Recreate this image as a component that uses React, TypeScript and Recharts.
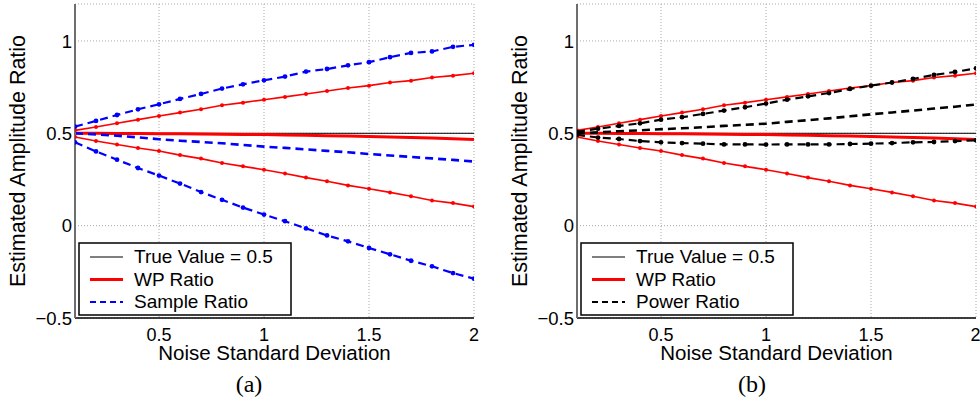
import React from 'react';
import { LineChart, Line, XAxis, YAxis, CartesianGrid } from 'recharts';

// noise std (x) values, one marker every 0.1
const noiseStd = [0.1, 0.2, 0.3, 0.4, 0.5, 0.6, 0.7, 0.8, 0.9, 1.0, 1.1, 1.2, 1.3, 1.4, 1.5, 1.6, 1.7, 1.8, 1.9, 2.0];

const trueValue = [0.5, 0.5, 0.5, 0.5, 0.5, 0.5, 0.5, 0.5, 0.5, 0.5, 0.5, 0.5, 0.5, 0.5, 0.5, 0.5, 0.5, 0.5, 0.5, 0.5];

// WP ratio: mean and +/- spread (same in both panels)
const wpUpper = [0.516, 0.534, 0.554, 0.574, 0.594, 0.612, 0.630, 0.652, 0.666, 0.682, 0.697, 0.713, 0.729, 0.745, 0.758, 0.775, 0.785, 0.802, 0.812, 0.825];
const wpMean = [0.500, 0.500, 0.499, 0.499, 0.498, 0.497, 0.496, 0.495, 0.494, 0.493, 0.491, 0.489, 0.487, 0.485, 0.483, 0.480, 0.477, 0.474, 0.470, 0.466];
const wpLower = [0.480, 0.458, 0.439, 0.420, 0.404, 0.382, 0.363, 0.339, 0.321, 0.303, 0.282, 0.260, 0.240, 0.218, 0.200, 0.180, 0.159, 0.136, 0.122, 0.103];

// panel (a): sample ratio
const sampleUpper = [0.536, 0.567, 0.599, 0.630, 0.657, 0.686, 0.713, 0.742, 0.765, 0.787, 0.807, 0.834, 0.848, 0.868, 0.885, 0.912, 0.935, 0.943, 0.968, 0.979];
const sampleMean = [0.500, 0.494, 0.487, 0.478, 0.468, 0.460, 0.453, 0.446, 0.437, 0.428, 0.421, 0.413, 0.405, 0.397, 0.388, 0.380, 0.372, 0.364, 0.356, 0.347];
const sampleLower = [0.451, 0.402, 0.357, 0.312, 0.271, 0.228, 0.182, 0.140, 0.098, 0.060, 0.024, -0.015, -0.053, -0.085, -0.121, -0.155, -0.190, -0.220, -0.257, -0.287];

// panel (b): power ratio
const powerUpper = [0.508, 0.525, 0.540, 0.554, 0.574, 0.587, 0.605, 0.623, 0.641, 0.661, 0.682, 0.700, 0.718, 0.740, 0.758, 0.775, 0.794, 0.816, 0.832, 0.852];
const powerMean = [0.500, 0.505, 0.511, 0.516, 0.522, 0.527, 0.533, 0.540, 0.546, 0.552, 0.562, 0.571, 0.581, 0.592, 0.603, 0.613, 0.623, 0.634, 0.644, 0.656];
const powerLower = [0.492, 0.477, 0.469, 0.458, 0.451, 0.447, 0.444, 0.440, 0.440, 0.439, 0.440, 0.440, 0.440, 0.442, 0.444, 0.447, 0.451, 0.453, 0.458, 0.462];

const xTicks = [0.5, 1, 1.5, 2];
const yTicks = [-0.5, 0, 0.5, 1];

const SANS = '"Liberation Sans", Arial, Helvetica, sans-serif';
const SERIF = '"Liberation Serif", "Times New Roman", serif';

const RED = '#ff0000';
const BLUE = '#0000ff';
const BLACK = '#000000';

const PLOT_TOP = 4;
const PLOT_BOTTOM = 318;

interface Row {
  x: number;
  trueValue: number;
  wpUpper: number;
  wpMean: number;
  wpLower: number;
  cmpUpper: number;
  cmpMean: number;
  cmpLower: number;
}

const buildRows = (upper: number[], mean: number[], lower: number[]): Row[] =>
  noiseStd.map((x, i) => ({
    x,
    trueValue: trueValue[i],
    wpUpper: wpUpper[i],
    wpMean: wpMean[i],
    wpLower: wpLower[i],
    cmpUpper: upper[i],
    cmpMean: mean[i],
    cmpLower: lower[i],
  }));

const sampleRows = buildRows(sampleUpper, sampleMean, sampleLower);
const powerRows = buildRows(powerUpper, powerMean, powerLower);

const fmtTick = (v: number) => (v < 0 ? '\u2212' + Math.abs(v) : String(v));

interface PanelProps {
  left: number;
  rows: Row[];
  axisWidth: number;
  rightMargin: number;
  cmpColor: string;
  cmpName: string;
  caption: string;
  captionX: number;
}

const Panel: React.FC<PanelProps> = ({ left, rows, axisWidth, rightMargin, cmpColor, cmpName, caption, captionX }) => {
  const width = 490;
  const height = 407;
  const plotLeft = axisWidth;
  const plotRight = width - rightMargin;

  const yLabel = () => {
    const x = plotLeft - 50;
    const y = (PLOT_TOP + PLOT_BOTTOM) / 2;
    return (
      <text x={x} y={y} transform={`rotate(-90 ${x} ${y})`} textAnchor="middle" fontSize={21.5} fontFamily={SANS} fill="#000">
        Estimated Amplitude Ratio
      </text>
    );
  };

  const xLabel = () => (
    <text x={(plotLeft + plotRight) / 2} y={359.5} textAnchor="middle" fontSize={20.5} fontFamily={SANS} fill="#000">
      Noise Standard Deviation
    </text>
  );

  const dotStyle = (c: string, r: number) => ({ r, fill: c, stroke: c, strokeWidth: 0 });

  return (
    <div style={{ position: 'absolute', left, top: 0, width, height }}>
      <LineChart width={width} height={height} data={rows} margin={{ top: PLOT_TOP, right: rightMargin, bottom: 29, left: 0 }}>
        <CartesianGrid stroke="#a8a8a8" strokeDasharray="1 2" strokeWidth={1} />
        <XAxis
          type="number"
          dataKey="x"
          domain={[0.1, 2]}
          ticks={xTicks}
          allowDataOverflow
          height={60}
          tickLine={false}
          tickSize={0}
          tickMargin={10}
          axisLine={{ stroke: '#000', strokeWidth: 1.5 }}
          tick={{ fill: '#000', fontSize: 18, fontFamily: SANS }}
          tickFormatter={fmtTick}
          label={{ content: xLabel }}
        />
        <YAxis
          type="number"
          domain={[-0.5, 1.2]}
          ticks={yTicks}
          allowDataOverflow
          width={axisWidth}
          tickLine={false}
          tickSize={0}
          tickMargin={3}
          axisLine={{ stroke: '#6e6e6e', strokeWidth: 2 }}
          tick={{ fill: '#000', fontSize: 18.5, fontFamily: SANS }}
          tickFormatter={fmtTick}
          label={{ content: yLabel }}
        />
        <Line dataKey="trueValue" stroke={BLACK} strokeWidth={1} dot={false} activeDot={false} isAnimationActive={false} />
        <Line dataKey="wpUpper" stroke={RED} strokeWidth={1.6} dot={dotStyle(RED, 2)} activeDot={false} isAnimationActive={false} />
        <Line dataKey="wpMean" stroke={RED} strokeWidth={3} dot={false} activeDot={false} isAnimationActive={false} />
        <Line dataKey="wpLower" stroke={RED} strokeWidth={1.6} dot={dotStyle(RED, 2)} activeDot={false} isAnimationActive={false} />
        <Line dataKey="cmpUpper" stroke={cmpColor} strokeWidth={2.2} strokeDasharray="8 5" dot={dotStyle(cmpColor, 2.4)} activeDot={false} isAnimationActive={false} />
        <Line dataKey="cmpMean" stroke={cmpColor} strokeWidth={2.6} strokeDasharray="8 5" dot={false} activeDot={false} isAnimationActive={false} />
        <Line dataKey="cmpLower" stroke={cmpColor} strokeWidth={2.2} strokeDasharray="8 5" dot={dotStyle(cmpColor, 2.4)} activeDot={false} isAnimationActive={false} />
      </LineChart>

      {/* legend box and caption */}
      <svg width={width} height={height} style={{ position: 'absolute', left: 0, top: 0, pointerEvents: 'none' }}>
        <g transform={`translate(${plotLeft + 4}, 243)`}>
          <rect x={0} y={0} width={212} height={72} fill="#fff" stroke="#000" strokeWidth={1.5} />
          <line x1={11} x2={44} y1={14} y2={14} stroke={BLACK} strokeWidth={1} />
          <text x={55} y={20} fontSize={19} fontFamily={SANS} fill="#000">True Value = 0.5</text>
          <line x1={11} x2={44} y1={36.5} y2={36.5} stroke={RED} strokeWidth={3} />
          <text x={55} y={43} fontSize={19} fontFamily={SANS} fill="#000">WP Ratio</text>
          <line x1={11} x2={44} y1={59} y2={59} stroke={cmpColor} strokeWidth={2.2} strokeDasharray="6 4" />
          <text x={55} y={65} fontSize={19} fontFamily={SANS} fill="#000">{cmpName}</text>
        </g>
        <text x={captionX} y={392} textAnchor="middle" fontSize={24} fontFamily={SERIF} fill="#000">{caption}</text>
      </svg>
    </div>
  );
};

export default function App() {
  return (
    <div style={{ position: 'absolute', left: 0, top: 0, width: 980, height: 407, background: '#fff', overflow: 'hidden' }}>
      <Panel left={0} rows={sampleRows} axisWidth={75} rightMargin={16} cmpColor={BLUE} cmpName="Sample Ratio" caption="(a)" captionX={249} />
      <Panel left={490} rows={powerRows} axisWidth={87} rightMargin={4} cmpColor={BLACK} cmpName="Power Ratio" caption="(b)" captionX={262} />
    </div>
  );
}
